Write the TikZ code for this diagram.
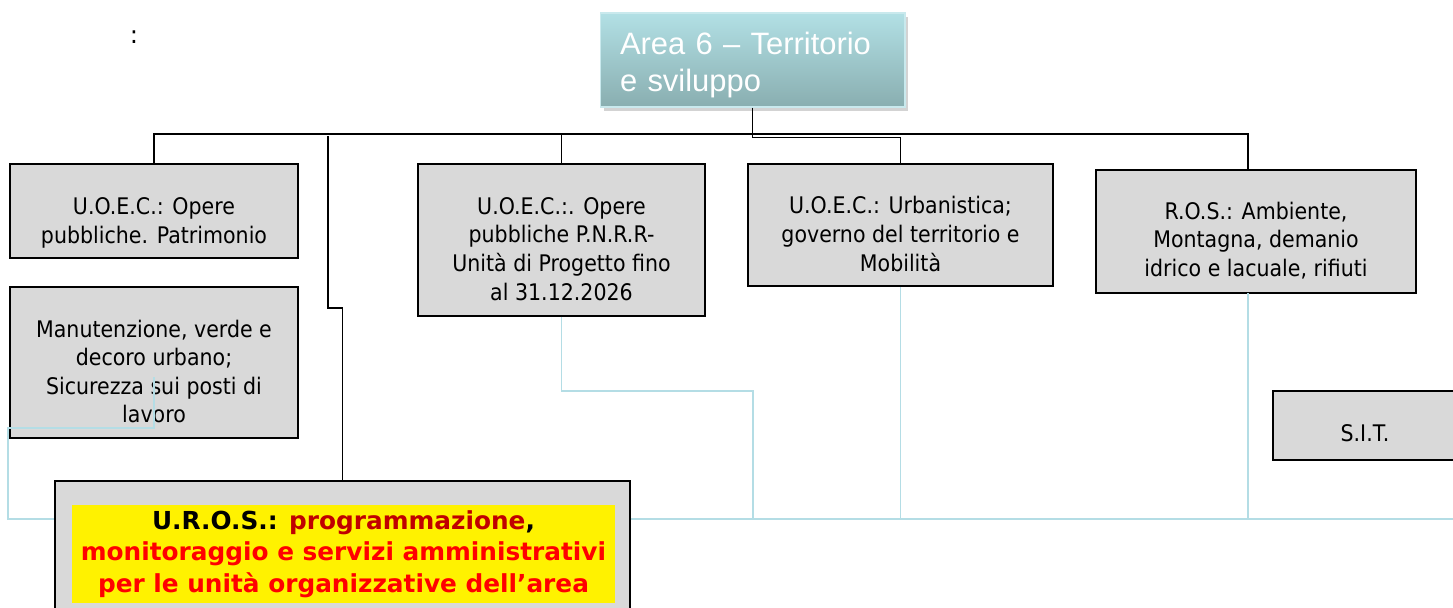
\documentclass[tikz,border=0pt]{standalone}
\usepackage{fontspec}
\setmainfont{DejaVu Sans}
\newfontfamily\areafont{Liberation Sans}
\newfontfamily\unitfont[FakeStretch=0.9]{DejaVu Sans}
\usetikzlibrary{shadows}

\definecolor{boxgray}{HTML}{D9D9D9}
\definecolor{tealline}{HTML}{B4DDE5}
\definecolor{areatop}{HTML}{B2E0E5}
\definecolor{areabottom}{HTML}{89AEB0}
\definecolor{urosred}{HTML}{FF0000}
\definecolor{urosdark}{HTML}{C00000}

\tikzset{
  unit/.style={draw=black, line width=1.1pt, fill=boxgray, inner sep=0pt},
  unittext/.style={align=center, inner sep=0pt, yshift=-0.18cm,
    font=\unitfont\fontsize{13}{16.3}\selectfont},
  area/.style={draw=areatop!70!white, line width=0.6pt, top color=areatop, bottom color=areabottom,
    text=white, align=left, inner sep=0pt, text width=5.3cm,
    font=\areafont\fontsize{17.6}{21}\selectfont,
    drop shadow={opacity=0.35, shadow xshift=2pt, shadow yshift=-2.5pt}},
  orgline/.style={draw=black, line width=1pt},
  subline/.style={draw=tealline, line width=1.1pt},
}

\begin{document}
\begin{tikzpicture}[x=0.02cm, y=-0.02cm]
\useasboundingbox (0,0) rectangle (1453,608);

\node (colon) at (134,37) {\fontsize{14}{16}\selectfont :};

\node[area, minimum width=6.1cm, minimum height=1.88cm] (area) at (752.5,60)
  {\rule{0pt}{18pt}Area 6 – Territorio\\e sviluppo};

\node[unit, minimum width=5.76cm, minimum height=1.88cm,
  label={[unittext, yshift=-0.06cm]center:U.O.E.C.: Opere\\pubbliche. Patrimonio}] (opere) at (154,211) {};
\node[unit, minimum width=5.76cm, minimum height=3.02cm,
  label={[unittext]center:Manutenzione, verde e\\decoro urbano;\\Sicurezza sui posti di\\lavoro}] (manut) at (154,362.5) {};
\node[unit, minimum width=5.74cm, minimum height=3.04cm,
  label={[unittext]center:U.O.E.C.:. Opere\\pubbliche P.N.R.R-\\Unità di Progetto fino\\al 31.12.2026}] (pnrr) at (561.5,240) {};
\node[unit, minimum width=6.1cm, minimum height=2.44cm,
  label={[unittext]center:U.O.E.C.: Urbanistica;\\governo del territorio e\\Mobilità}] (urb) at (900.5,225) {};
\node[unit, minimum width=6.4cm, minimum height=2.46cm,
  label={[unittext]center:R.O.S.: Ambiente,\\Montagna, demanio\\idrico e lacuale, rifiuti}] (ros) at (1256,231.5) {};
\node[unit, minimum width=3.68cm, minimum height=1.38cm,
  label={[unittext, yshift=0.02cm]center:S.I.T.}] (sit) at (1365,425.5) {};

\node[unit, minimum width=11.5cm, minimum height=2.88cm] (uros) at (342.5,553) {};
\node[fill=yellow, minimum width=10.86cm, minimum height=1.96cm, inner sep=0pt, align=center,
  text=urosred, font=\bfseries\fontsize{14.1}{17.8}\selectfont] (urosText) at (343.5,554)
  {\textcolor{black}{U.R.O.S.:} \textcolor{urosdark}{programmazione}\textcolor{black}{,}\\
   monitoraggio e servizi amministrativi\\per le unità organizzative dell’area};

\coordinate (busR) at (1248,134);
\coordinate (urosTap) at (328,136);
\draw[orgline] (area.south) -- ++(0,30) -| (urb.north);
\draw[orgline] (opere.north) |- (busR) -- (busR |- ros.north);
\draw[orgline] (pnrr.north) -- (pnrr.north |- busR);
\draw[orgline] (urosTap) -- ++(0,172) -| (uros.north);

\coordinate (rail) at (1453,519);
\coordinate (pnrrBend) at (753,391);
\coordinate (rosTap) at (1248,293);
\coordinate (manutTap) at (154,377);
\draw[subline] (uros.east |- rail) -- (rail);
\draw[subline] (pnrr.south) |- (pnrrBend) -- (pnrrBend |- rail);
\draw[subline] (urb.south) -- (urb.south |- rail);
\draw[subline] (rosTap) -- (rosTap |- rail);
\draw[subline] (manutTap) |- (8,428) |- (uros.west |- rail);

\end{tikzpicture}
\end{document}
